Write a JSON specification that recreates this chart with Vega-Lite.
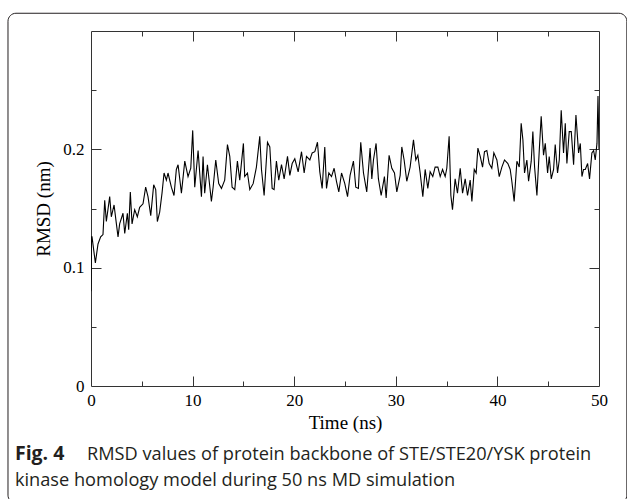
{
  "$schema": "https://vega.github.io/schema/vega-lite/v6.json",
  "width": 508,
  "height": 355,
  "autosize": "none",
  "padding": {"left": 91, "top": 31, "right": 28, "bottom": 113},
  "background": "white",
  "config": {"view": {"stroke": null}},
  "data": {"values": [
    {"t":0,"r":0.080},{"t":0.05,"r":0.126},{"t":0.1,"r":0.126},{"t":0.43,"r":0.104},{"t":0.69,"r":0.120},{"t":0.95,"r":0.126},{"t":1.18,"r":0.128},{"t":1.35,"r":0.157},{"t":1.51,"r":0.139},{"t":1.84,"r":0.160},{"t":2.0,"r":0.143},{"t":2.27,"r":0.153},{"t":2.5,"r":0.137},{"t":2.66,"r":0.126},{"t":2.82,"r":0.137},{"t":3.15,"r":0.146},{"t":3.32,"r":0.129},{"t":3.58,"r":0.146},{"t":3.71,"r":0.132},{"t":3.87,"r":0.164},{"t":4.04,"r":0.137},{"t":4.30,"r":0.149},{"t":4.56,"r":0.143},{"t":4.79,"r":0.151},{"t":5.12,"r":0.154},{"t":5.38,"r":0.168},{"t":5.61,"r":0.160},{"t":5.88,"r":0.144},{"t":6.17,"r":0.170},{"t":6.37,"r":0.166},{"t":6.53,"r":0.139},{"t":6.76,"r":0.147},{"t":6.99,"r":0.163},{"t":7.19,"r":0.180},{"t":7.42,"r":0.174},{"t":7.58,"r":0.180},{"t":7.91,"r":0.168},{"t":8.17,"r":0.161},{"t":8.40,"r":0.183},{"t":8.57,"r":0.187},{"t":8.90,"r":0.163},{"t":9.23,"r":0.190},{"t":9.55,"r":0.177},{"t":9.82,"r":0.184},{"t":10.01,"r":0.216},{"t":10.21,"r":0.168},{"t":10.54,"r":0.199},{"t":10.87,"r":0.160},{"t":11.03,"r":0.194},{"t":11.19,"r":0.163},{"t":11.46,"r":0.187},{"t":11.85,"r":0.156},{"t":12.02,"r":0.168},{"t":12.28,"r":0.191},{"t":12.57,"r":0.171},{"t":12.84,"r":0.167},{"t":13.16,"r":0.174},{"t":13.43,"r":0.204},{"t":13.66,"r":0.194},{"t":13.89,"r":0.168},{"t":14.15,"r":0.166},{"t":14.41,"r":0.190},{"t":14.64,"r":0.174},{"t":15.00,"r":0.205},{"t":15.13,"r":0.177},{"t":15.40,"r":0.180},{"t":15.63,"r":0.166},{"t":15.96,"r":0.171},{"t":16.28,"r":0.185},{"t":16.61,"r":0.211},{"t":16.78,"r":0.183},{"t":17.04,"r":0.161},{"t":17.37,"r":0.206},{"t":17.60,"r":0.202},{"t":17.83,"r":0.167},{"t":18.02,"r":0.166},{"t":18.25,"r":0.190},{"t":18.48,"r":0.174},{"t":18.75,"r":0.187},{"t":19.01,"r":0.175},{"t":19.34,"r":0.194},{"t":19.57,"r":0.178},{"t":19.80,"r":0.188},{"t":20.06,"r":0.192},{"t":20.39,"r":0.181},{"t":20.72,"r":0.198},{"t":20.98,"r":0.180},{"t":21.21,"r":0.194},{"t":21.54,"r":0.191},{"t":21.77,"r":0.197},{"t":22.03,"r":0.198},{"t":22.29,"r":0.206},{"t":22.52,"r":0.181},{"t":22.75,"r":0.167},{"t":23.01,"r":0.202},{"t":23.18,"r":0.167},{"t":23.41,"r":0.180},{"t":23.67,"r":0.177},{"t":23.93,"r":0.184},{"t":24.16,"r":0.173},{"t":24.39,"r":0.164},{"t":24.66,"r":0.180},{"t":24.98,"r":0.171},{"t":25.25,"r":0.160},
    {"t":25.50,"r":0.178},{"t":25.83,"r":0.190},{"t":26.06,"r":0.168},{"t":26.32,"r":0.167},{"t":26.55,"r":0.206},{"t":26.82,"r":0.180},{"t":27.14,"r":0.164},{"t":27.47,"r":0.201},{"t":27.64,"r":0.175},{"t":27.80,"r":0.191},{"t":28.06,"r":0.205},{"t":28.29,"r":0.175},{"t":28.56,"r":0.161},{"t":28.88,"r":0.177},{"t":29.05,"r":0.159},{"t":29.34,"r":0.195},{"t":29.61,"r":0.184},{"t":29.87,"r":0.180},{"t":30.10,"r":0.164},{"t":30.43,"r":0.178},{"t":30.59,"r":0.202},{"t":30.82,"r":0.191},{"t":31.08,"r":0.173},{"t":31.41,"r":0.185},{"t":31.74,"r":0.208},{"t":31.97,"r":0.191},{"t":32.17,"r":0.195},{"t":32.40,"r":0.180},{"t":32.66,"r":0.160},{"t":32.89,"r":0.183},{"t":33.15,"r":0.167},{"t":33.38,"r":0.181},{"t":33.64,"r":0.177},{"t":33.87,"r":0.185},{"t":34.14,"r":0.185},{"t":34.37,"r":0.177},{"t":34.60,"r":0.183},{"t":34.86,"r":0.177},{"t":35.02,"r":0.184},{"t":35.25,"r":0.211},{"t":35.42,"r":0.161},{"t":35.58,"r":0.149},{"t":35.84,"r":0.175},{"t":36.07,"r":0.163},{"t":36.34,"r":0.184},{"t":36.57,"r":0.163},{"t":36.83,"r":0.175},{"t":37.06,"r":0.161},{"t":37.32,"r":0.174},{"t":37.49,"r":0.156},{"t":37.72,"r":0.183},{"t":37.91,"r":0.180},{"t":38.08,"r":0.201},{"t":38.31,"r":0.194},{"t":38.54,"r":0.185},{"t":38.73,"r":0.198},{"t":38.96,"r":0.199},{"t":39.19,"r":0.188},{"t":39.45,"r":0.184},{"t":39.65,"r":0.197},{"t":39.95,"r":0.191},{"t":40.18,"r":0.177},{"t":40.44,"r":0.185},{"t":40.70,"r":0.191},{"t":41.03,"r":0.188},{"t":41.26,"r":0.183},{"t":41.42,"r":0.173},{"t":41.65,"r":0.156},{"t":41.92,"r":0.190},{"t":42.15,"r":0.185},{"t":42.34,"r":0.222},{"t":42.51,"r":0.208},{"t":42.67,"r":0.180},{"t":42.90,"r":0.191},{"t":43.07,"r":0.173},{"t":43.33,"r":0.190},{"t":43.49,"r":0.215},{"t":43.66,"r":0.185},{"t":43.89,"r":0.161},{"t":44.12,"r":0.199},{"t":44.31,"r":0.228},{"t":44.54,"r":0.195},{"t":44.71,"r":0.205},{"t":44.94,"r":0.180},{"t":45.10,"r":0.194},{"t":45.30,"r":0.175},{"t":45.53,"r":0.183},{"t":45.69,"r":0.204},{"t":45.92,"r":0.180},{"t":46.09,"r":0.191},{"t":46.28,"r":0.233},{"t":46.51,"r":0.197},{"t":46.68,"r":0.222},{"t":46.84,"r":0.188},{"t":47.07,"r":0.215},{"t":47.27,"r":0.215},{"t":47.50,"r":0.187},{"t":47.73,"r":0.229},{"t":47.99,"r":0.197},{"t":48.16,"r":0.205},{"t":48.32,"r":0.177},{"t":48.48,"r":0.183},{"t":48.65,"r":0.183},{"t":48.88,"r":0.188},{"t":49.07,"r":0.175},{"t":49.30,"r":0.197},{"t":49.47,"r":0.199},{"t":49.63,"r":0.191},{"t":49.80,"r":0.205},{"t":49.90,"r":0.245},{"t":50.0,"r":0.200}
  ]},
  "resolve": {"axis": {"x": "independent", "y": "independent"}},
  "layer": [
    {
      "mark": {"type": "line", "color": "#000000", "strokeWidth": 1.1, "clip": true},
      "encoding": {
        "x": {"field": "t", "type": "quantitative", "scale": {"domain": [0, 50], "nice": false, "zero": false},
          "axis": {"orient": "bottom", "values": [0, 10, 20, 30, 40, 50], "ticks": false, "grid": false, "domain": true, "domainColor": "#333333", "domainWidth": 1,
            "labelFont": "Liberation Serif", "labelFontSize": 17, "labelColor": "#000000", "labelPadding": 6, "labelFlush": false,
            "title": "Time (ns)", "titleFont": "Liberation Serif", "titleFontSize": 19, "titleFontWeight": "normal", "titleColor": "#000000", "titlePadding": 5}},
        "y": {"field": "r", "type": "quantitative", "scale": {"domain": [0, 0.3], "nice": false},
          "axis": {"orient": "left", "values": [0, 0.1, 0.2], "format": "~g", "ticks": false, "grid": false, "domain": true, "domainColor": "#333333", "domainWidth": 1,
            "labelFont": "Liberation Serif", "labelFontSize": 17, "labelColor": "#000000", "labelPadding": 7, "labelFlush": false,
            "title": "RMSD (nm)", "titleFont": "Liberation Serif", "titleFontSize": 19, "titleFontWeight": "normal", "titleColor": "#000000", "titlePadding": 9}}
      }
    },
    {
      "mark": {"type": "line", "opacity": 0},
      "encoding": {
        "x": {"field": "t", "type": "quantitative",
          "axis": {"orient": "bottom", "values": [10, 20, 30, 40], "tickSize": -10, "tickColor": "#333333", "labels": false, "domain": false, "grid": false, "title": null}},
        "y": {"field": "r", "type": "quantitative",
          "axis": {"orient": "left", "values": [0.1, 0.2], "tickSize": -10, "tickColor": "#333333", "labels": false, "domain": false, "grid": false, "title": null}}
      }
    },
    {
      "mark": {"type": "line", "opacity": 0},
      "encoding": {
        "x": {"field": "t", "type": "quantitative",
          "axis": {"orient": "bottom", "values": [5, 15, 25, 35, 45], "tickSize": -5, "tickColor": "#333333", "labels": false, "domain": false, "grid": false, "title": null}},
        "y": {"field": "r", "type": "quantitative",
          "axis": {"orient": "left", "values": [0.05, 0.15, 0.25], "tickSize": -5, "tickColor": "#333333", "labels": false, "domain": false, "grid": false, "title": null}}
      }
    },
    {
      "mark": {"type": "line", "opacity": 0},
      "encoding": {
        "x": {"field": "t", "type": "quantitative",
          "axis": {"orient": "top", "values": [10, 20, 30, 40], "tickSize": -10, "tickColor": "#333333", "labels": false, "domain": true, "domainColor": "#333333", "grid": false, "title": null}},
        "y": {"field": "r", "type": "quantitative",
          "axis": {"orient": "right", "values": [0.1, 0.2], "tickSize": -10, "tickColor": "#333333", "labels": false, "domain": true, "domainColor": "#333333", "grid": false, "title": null}}
      }
    },
    {
      "mark": {"type": "line", "opacity": 0},
      "encoding": {
        "x": {"field": "t", "type": "quantitative",
          "axis": {"orient": "top", "values": [5, 15, 25, 35, 45], "tickSize": -5, "tickColor": "#333333", "labels": false, "domain": false, "grid": false, "title": null}},
        "y": {"field": "r", "type": "quantitative",
          "axis": {"orient": "right", "values": [0.05, 0.15, 0.25], "tickSize": -5, "tickColor": "#333333", "labels": false, "domain": false, "grid": false, "title": null}}
      }
    },
    {
      "data": {"values": [{"part": "frame"}]},
      "mark": {"type": "rect", "filled": false, "stroke": "#231f20", "strokeWidth": 1, "cornerRadius": 8},
      "encoding": {
        "x": {"datum": -8.17, "type": "quantitative", "axis": null},
        "x2": {"datum": 52.74},
        "y": {"datum": 0.315, "type": "quantitative", "axis": null},
        "y2": {"datum": -0.099}
      }
    },
    {
      "data": {"values": [{"caption": "Fig. 4"}]},
      "mark": {"type": "text", "font": "Open Sans", "fontSize": 19.5, "fontWeight": "bold", "color": "#231f20", "align": "left", "baseline": "alphabetic"},
      "encoding": {
        "x": {"datum": -7.485, "type": "quantitative", "axis": null},
        "y": {"datum": -0.0625, "type": "quantitative", "axis": null},
        "text": {"field": "caption"}
      }
    },
    {
      "data": {"values": [{"caption": "RMSD values of protein backbone of STE/STE20/YSK protein"}]},
      "mark": {"type": "text", "font": "Open Sans", "fontSize": 18.2, "color": "#231f20", "align": "left", "baseline": "alphabetic"},
      "encoding": {
        "x": {"datum": -0.394, "type": "quantitative", "axis": null},
        "y": {"datum": -0.0625, "type": "quantitative", "axis": null},
        "text": {"field": "caption"}
      }
    },
    {
      "data": {"values": [{"caption": "kinase homology model during 50 ns MD simulation"}]},
      "mark": {"type": "text", "font": "Open Sans", "fontSize": 18.2, "color": "#231f20", "align": "left", "baseline": "alphabetic"},
      "encoding": {
        "x": {"datum": -7.485, "type": "quantitative", "axis": null},
        "y": {"datum": -0.0845, "type": "quantitative", "axis": null},
        "text": {"field": "caption"}
      }
    }
  ]
}
